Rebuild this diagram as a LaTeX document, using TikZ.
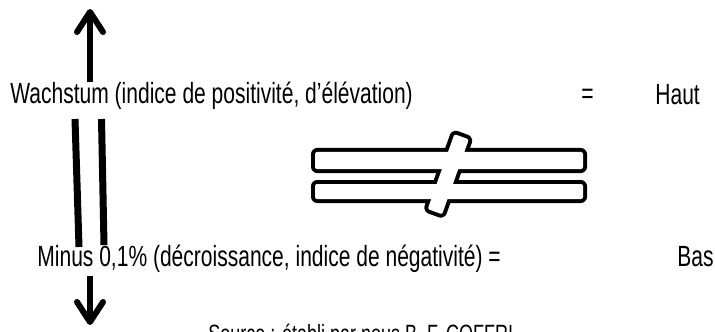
\documentclass[tikz,border=0pt]{standalone}
\usepackage{fontspec}
\setmainfont{Liberation Sans}[FakeStretch=0.72]
\usetikzlibrary{arrows.meta}

\begin{document}
\begin{tikzpicture}[x=0.5pt,y=-0.5pt,>={Straight Barb[length=10pt,width=13pt,round]},
    lbl/.style={anchor=base west,inner sep=0pt,font=\fontsize{14.6}{17}\selectfont},
    bar/.style={line width=3.5pt},
    shaft/.style={->,line width=3pt}]

    \useasboundingbox (0,0) rectangle (715,331);

    % texts
    \node[lbl] (growth) at (10,104) {Wachstum (indice de positivité, d’élévation)};
    \node[lbl] (eqtop) at (581,104) {=};
    \node[lbl] (haut) at (655,105) {Haut};
    \node[lbl] (minus) at (37,266) {Minus 0,1\% (décroissance, indice de négativité) =};
    \node[lbl] (bas) at (677,266) {Bas};
    \node[lbl,font=\fontsize{12.5}{15}\selectfont] (source) at (208,342) {Source : établi par nous B. F. COFFRI};

    % arrows
    \coordinate (upbot) at (90,82);
    \coordinate (uptop) at (90,9);
    \draw[shaft] (upbot) -- (uptop);
    \coordinate (downtop) at (90,276);
    \coordinate (downbot) at (90,325);
    \draw[shaft] (downtop) -- (downbot);

    % bars
    \coordinate (barA1) at (75,119);
    \coordinate (barA2) at (79,247);
    \coordinate (barB1) at (101.5,119);
    \coordinate (barB2) at (104,245);
    \draw[bar] (barA1) -- (barA2);
    \draw[bar] (barB1) -- (barB2);

    % not equal sign
    \draw[line width=4pt,line join=round,rounded corners=1pt,postaction={fill=white}]
        (315,152) rectangle (583,169)
        (315,184) rectangle (583,199)
        (468.8,139.4) -- (454.4,134.1) -- (427.7,209.0) -- (442.1,214.3) -- cycle;

\end{tikzpicture}
\end{document}
